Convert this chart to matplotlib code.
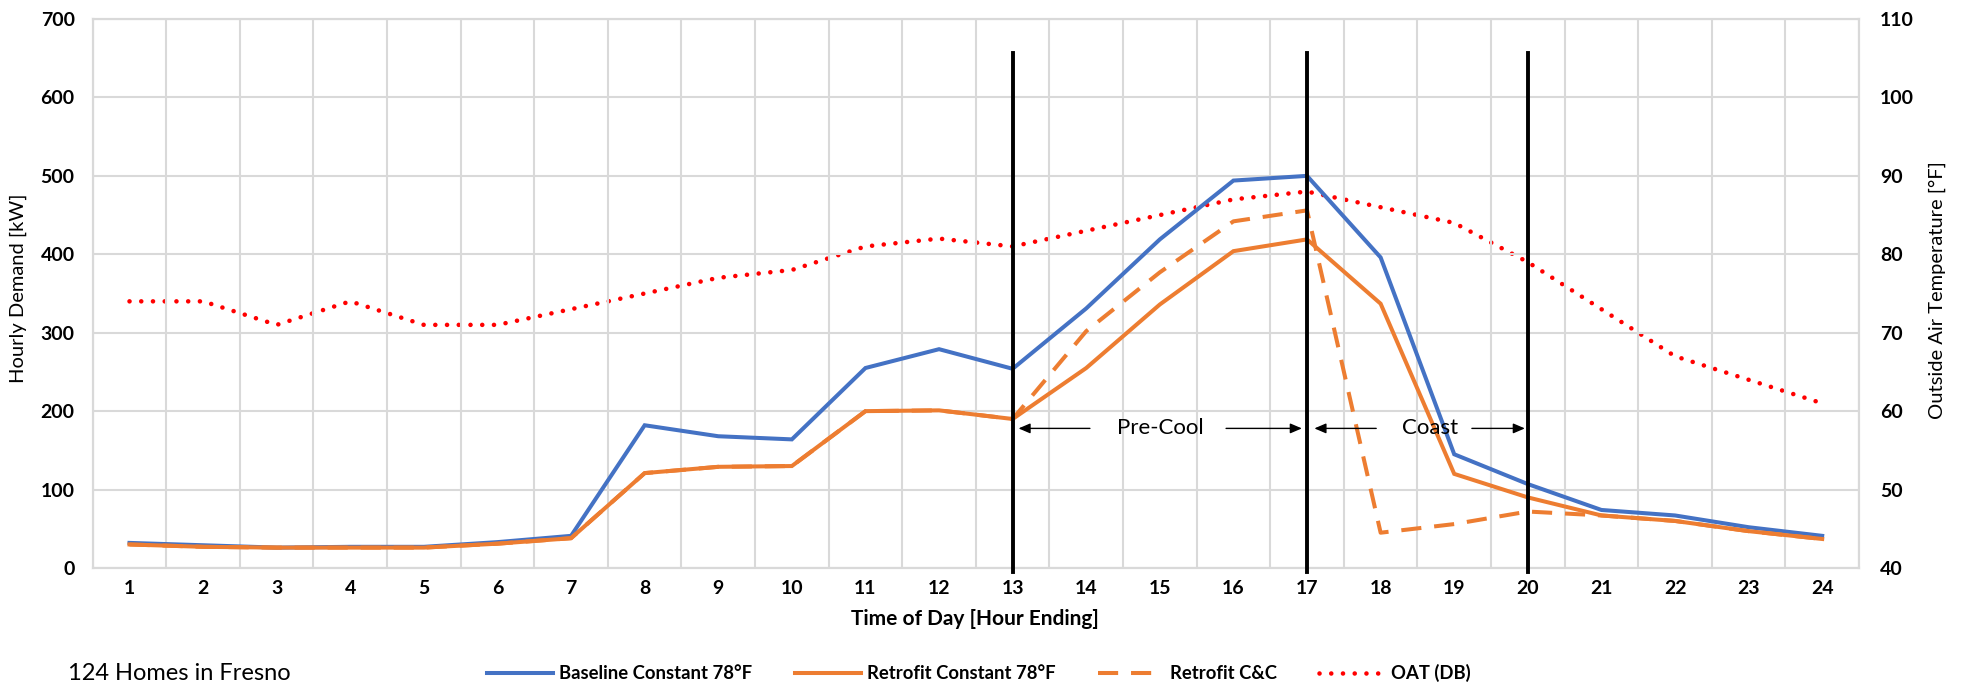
import matplotlib
matplotlib.use("Agg")
import matplotlib.pyplot as plt
import numpy as np

plt.rcParams['font.family'] = ['Lato', 'DejaVu Sans']

hours = list(range(1, 25))
baseline = [32, 29, 26, 27, 27, 33, 41, 182, 168, 164, 255, 279, 254, 331, 419, 494, 500, 396, 145, 107, 74, 67, 52, 41]
retrofit = [30, 27, 26, 26, 26, 31, 38, 121, 129, 130, 200, 201, 190, 255, 336, 404, 419, 337, 120, 90, 67, 60, 47, 37]
retrofit_cc = [30, 27, 26, 26, 26, 31, 38, 121, 129, 130, 200, 201, 190, 302, 377, 442, 456, 45, 56, 72, 67, 60, 47, 37]
oat = [74, 74, 71, 74, 71, 71, 73, 75, 77, 78, 81, 82, 81, 83, 85, 87, 88, 86, 84, 79, 73, 67, 64, 61]
event_hours = [13, 17, 20]

BLUE = '#4472C4'
ORANGE = '#ED7D31'
RED = '#FF0000'
GRID = '#D9D9D9'

fig = plt.figure(figsize=(19.65, 6.87), dpi=100)
ax = fig.add_axes([92.7/1965, 1-568/687, (1859-92.7)/1965, (568-19)/687])
ax2 = ax.twinx()

ax.set_xlim(0.5, 24.5)
ax.set_ylim(0, 700)
ax2.set_ylim(40, 110)

# grid
ax.set_yticks(np.arange(0, 701, 100))
ax.set_xticks(hours)
ax.set_xticks(np.arange(0.5, 24.6, 1), minor=True)
ax.grid(which='minor', axis='x', color=GRID, lw=1.5)
ax.grid(which='major', axis='y', color=GRID, lw=1.5)
ax.set_axisbelow(True)
ax2.set_yticks(np.arange(40, 111, 10))
for a in (ax, ax2):
    for s in a.spines.values():
        s.set_color(GRID)
        s.set_linewidth(1.5)
ax.tick_params(which='both', length=0)
ax2.tick_params(which='both', length=0)
ax.tick_params(axis='y', pad=13, labelsize=14)
ax.tick_params(axis='x', pad=9, labelsize=14)
ax2.tick_params(axis='y', pad=15, labelsize=14)
for lab in ax.get_xticklabels() + ax.get_yticklabels() + ax2.get_yticklabels():
    lab.set_fontweight('bold')

l1, = ax.plot(hours, baseline, color=BLUE, lw=2.9, label='Baseline Constant 78°F', solid_joinstyle='miter')
l3, = ax.plot(hours, retrofit_cc, color=ORANGE, lw=2.9, ls=(0, (5, 3.2)), label='Retrofit C&C')
l2, = ax.plot(hours, retrofit, color=ORANGE, lw=2.9, label='Retrofit Constant 78°F', solid_joinstyle='miter')
l4, = ax2.plot(hours, oat, color=RED, lw=3.3, ls=(0, (0.01, 2.55)), dash_capstyle='round', label='OAT (DB)')
ax2.set_zorder(ax.get_zorder() - 1)
ax.patch.set_visible(False)

# event vertical lines
for h in event_hours:
    ax.plot([h, h], [-5, 657], color='black', lw=2.8, clip_on=False, zorder=5)

# annotations
arrow_kw = dict(arrowstyle='-|>,head_length=0.7,head_width=0.3', color='black', lw=1.0, shrinkA=0, shrinkB=0)
arrow_y = 178
ax.annotate('', xy=(13.08, arrow_y), xytext=(14.05, arrow_y), arrowprops=arrow_kw, zorder=6)
ax.annotate('', xy=(16.93, arrow_y), xytext=(15.9, arrow_y), arrowprops=arrow_kw, zorder=6)
ax.text(15.0, arrow_y, 'Pre-Cool', ha='center', va='center', fontsize=16, zorder=6)
ax.annotate('', xy=(17.1, arrow_y), xytext=(17.94, arrow_y), arrowprops=arrow_kw, zorder=6)
ax.annotate('', xy=(19.96, arrow_y), xytext=(19.24, arrow_y), arrowprops=arrow_kw, zorder=6)
ax.text(18.67, arrow_y, 'Coast', ha='center', va='center', fontsize=16, zorder=6)

# labels
fig.text(18/1965, 1-288/687, 'Hourly Demand [kW]', rotation=90, ha='center', va='center', fontsize=14.5)
fig.text(1937/1965, 1-290/687, 'Outside Air Temperature [°F]', rotation=90, ha='center', va='center', fontsize=14.5)
fig.text(975/1965, 1-619/687, 'Time of Day [Hour Ending]', ha='center', va='center', fontsize=15, fontweight='bold')
fig.text(68/1965, 1-673/687, '124 Homes in Fresno', ha='left', va='center', fontsize=17)

leg = fig.legend(handles=[l1, l2, l3, l4], loc='center', bbox_to_anchor=(979/1965, 1-673/687),
                 ncol=4, frameon=False, handlelength=3.6, handletextpad=0.3, columnspacing=2.3,
                 prop={'weight': 'bold', 'size': 13.3})

fig.savefig('out.png', dpi=100)
